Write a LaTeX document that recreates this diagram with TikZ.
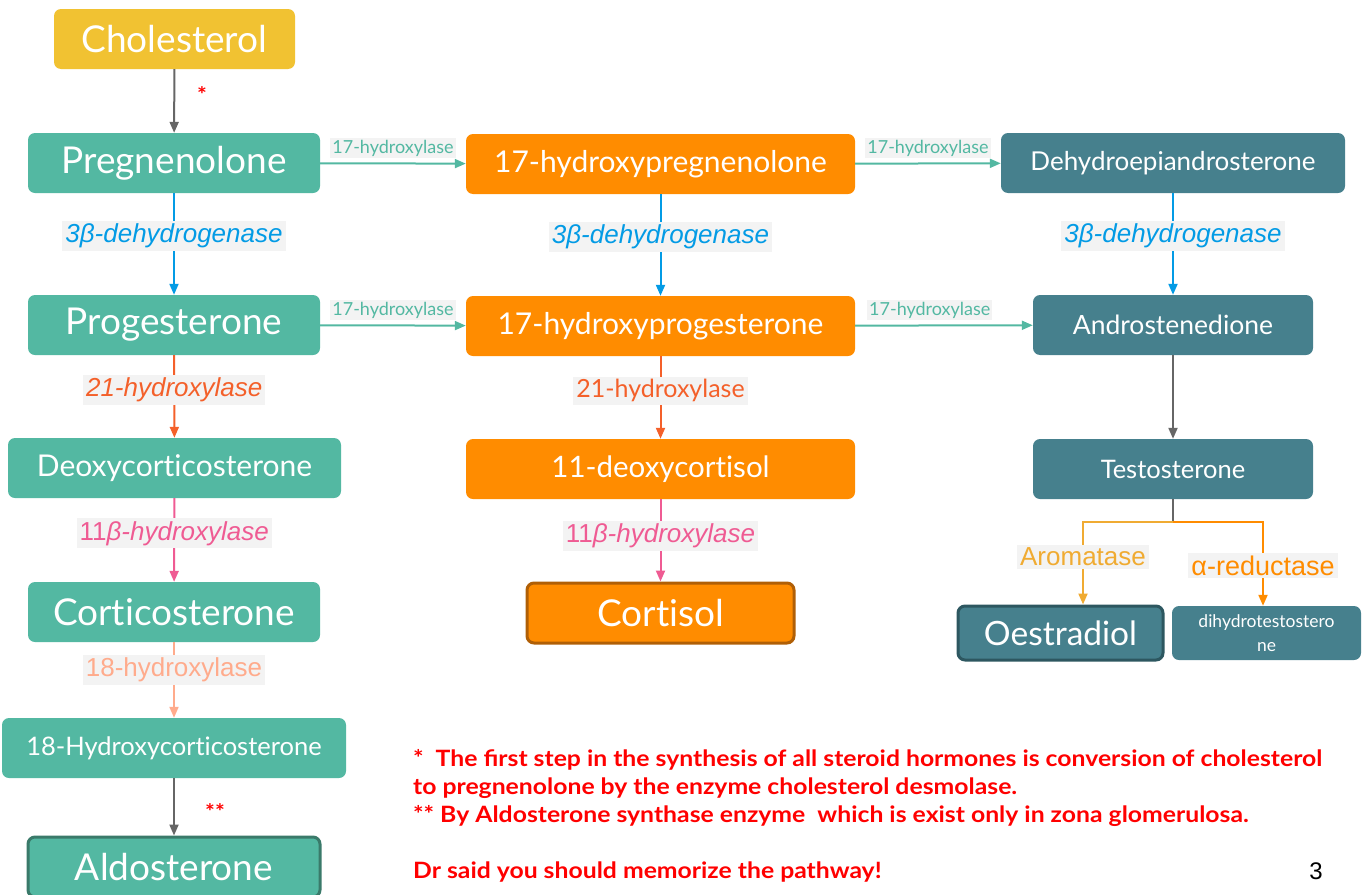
\documentclass[tikz,border=0pt]{standalone}
\usepackage{fontspec}
\setmainfont{Lato}[Ligatures={NoCommon}]
\newfontfamily\arialfont{Liberation Sans}
\newfontfamily\notefont{Lato}[FakeStretch=1.1]
\usetikzlibrary{arrows.meta}

\definecolor{tealbox}{HTML}{53B8A2}
\definecolor{tealdark}{HTML}{3A7A6A}
\definecolor{slatebox}{HTML}{46808D}
\definecolor{slatedark}{HTML}{2D5760}
\definecolor{orangebox}{HTML}{FF8C00}
\definecolor{browndark}{HTML}{B05F06}
\definecolor{cholbox}{HTML}{F1C232}
\definecolor{labelbg}{HTML}{F3F3F3}
\definecolor{grayline}{HTML}{666666}
\definecolor{blueline}{HTML}{039BE5}
\definecolor{redorange}{HTML}{F4602A}
\definecolor{pinkline}{HTML}{EF5B93}
\definecolor{salmon}{HTML}{FFAB8C}
\definecolor{aromcol}{HTML}{F0AB32}
\definecolor{notered}{HTML}{FF0000}

\begin{document}
\begin{tikzpicture}[x=1pt,y=-1pt,
    box/.style={rounded corners=7pt, text=white, minimum height=60pt,
                inner sep=0pt, align=center},
    tealnode/.style={box, fill=tealbox},
    orangenode/.style={box, fill=orangebox},
    slatenode/.style={box, fill=slatebox},
    fs/.style={font=\fontsize{#1}{#1}\selectfont},
    arr/.style={-{Triangle[length=11pt,width=9pt]}, line width=2pt},
    enz/.style={fill=labelbg, inner sep=3pt, pos=0.42,
                font=\arialfont\fontsize{26}{30}\selectfont\itshape},
    enzup/.style={enz, font=\arialfont\fontsize{26}{30}\selectfont},
    hyd/.style={fill=labelbg, inner sep=2pt, above=4pt, text=tealbox,
                font=\fontsize{18}{20}\selectfont},
    starmark/.style={text=notered, font=\notefont\bfseries\fontsize{21}{21}\selectfont}
]
\useasboundingbox (0,0) rectangle (1362,894);

% left column
\node[box, fill=cholbox, minimum width=241pt, fs=37] (chol) at (174.5,39) {Cholesterol};
\node[tealnode, minimum width=292pt, fs=37] (preg) at (174,163) {Pregnenolone};
\node[tealnode, minimum width=292pt, fs=37] (prog) at (174,325) {Progesterone};
\node[tealnode, minimum width=333pt, fs=30] (doc) at (174.5,468) {Deoxycorticosterone};
\node[tealnode, minimum width=292pt, fs=37] (cort) at (174,612) {Corticosterone};
\node[tealnode, minimum width=344pt, fs=25.5] (hcort) at (174,748) {18-Hydroxycorticosterone};
\node[tealnode, minimum width=292pt, fs=37, draw=tealdark, line width=3pt] (aldo) at (174,867) {Aldosterone};

% middle column
\node[orangenode, minimum width=389pt, fs=30] (ohpreg) at (660.5,164) {17-hydroxypregnenolone};
\node[orangenode, minimum width=389pt, fs=30] (ohprog) at (660.5,326) {17-hydroxyprogesterone};
\node[orangenode, minimum width=389pt, fs=29.5] (doxy) at (660.5,469) {11-deoxycortisol};
\node[orangenode, minimum width=267pt, minimum height=60pt, fs=37, draw=browndark, line width=3pt] (cortisol) at (660.5,613) {Cortisol};

% right column
\node[slatenode, minimum width=344pt, fs=26] (dhea) at (1173,163) {Dehydroepiandrosterone};
\node[slatenode, minimum width=280pt, fs=26.5] (andro) at (1173,325) {Androstenedione};
\node[slatenode, minimum width=280pt, fs=25.5] (testo) at (1173,469) {Testosterone};
\node[slatenode, minimum width=205pt, minimum height=54pt, fs=33.5, draw=slatedark, line width=3pt] (oest) at (1060.5,633) {Oestradiol};
\node[slatenode, minimum width=189pt, minimum height=54pt, font=\fontsize{17.5}{24}\selectfont] (dht) at (1266.5,633) {dihydrotestostero\\ne};
\coordinate (fork) at (1173,522);

% vertical steps
\draw[arr, grayline] (chol) -- (preg);
\node[starmark] (s1) at (202,95) {*};
\draw[arr, blueline] (preg) -- node[enz, text=blueline] {3β-dehydrogenase} (prog);
\draw[arr, redorange] (prog) -- node[enz, text=redorange] {21-hydroxylase} (doc);
\draw[arr, pinkline] (doc) -- node[enz, text=pinkline] {{\upshape 11}β-hydroxylase} (cort);
\draw[arr, salmon] (cort) -- node[enzup, text=salmon, pos=0.37] {18-hydroxylase} (hcort);
\draw[arr, grayline] (hcort) -- (aldo);
\node[starmark] (s2) at (215,812) {**};

\draw[arr, blueline] (ohpreg) -- node[enz, text=blueline] {3β-dehydrogenase} (ohprog);
\draw[arr, redorange] (ohprog) -- node[enz, text=redorange, font=\fontsize{25}{30}\selectfont] {21-hydroxylase} (doxy);
\draw[arr, pinkline] (doxy) -- node[enz, text=pinkline, pos=0.45] {{\upshape 11}β-hydroxylase} (cortisol);

\draw[arr, blueline] (dhea) -- node[enz, text=blueline] {3β-dehydrogenase} (andro);
\draw[arr, grayline] (andro) -- (testo);
\draw[line width=2pt, grayline] (testo) -- (fork);
\draw[arr, aromcol] (fork) -| node[enzup, text=aromcol, pos=0.71] {Aromatase} ([xshift=22.5pt]oest.north);
\draw[arr, orangebox] (fork) -| node[enzup, text=orangebox, pos=0.76, font=\arialfont\fontsize{27}{30}\selectfont] {α-reductase} ([xshift=-3.5pt]dht.north);

% 17-hydroxylase steps
\draw[arr, tealbox] (preg) -- node[hyd] {17-hydroxylase} (ohpreg);
\draw[arr, tealbox] (prog) -- node[hyd] {17-hydroxylase} (ohprog);
\draw[arr, tealbox] (ohpreg) -- node[hyd] {17-hydroxylase} (dhea);
\draw[arr, tealbox] (ohprog) -- node[hyd, pos=0.42] {17-hydroxylase} (andro);

% notes
\node[anchor=north west, align=left, inner sep=0pt, text=notered,
      font=\notefont\bfseries\fontsize{22.5}{28}\selectfont] (notes) at (413,749)
  {*\ \ The first step in the synthesis of all steroid hormones is conversion of cholesterol\\
   to pregnenolone by the enzyme cholesterol desmolase.\\
   ** By Aldosterone synthase enzyme\ \ which is exist only in zona glomerulosa.\\
   \mbox{}\\
   Dr said you should memorize the pathway!};
\node[font=\arialfont\fontsize{24}{24}\selectfont] (page) at (1316,871) {3};
\end{tikzpicture}
\end{document}
